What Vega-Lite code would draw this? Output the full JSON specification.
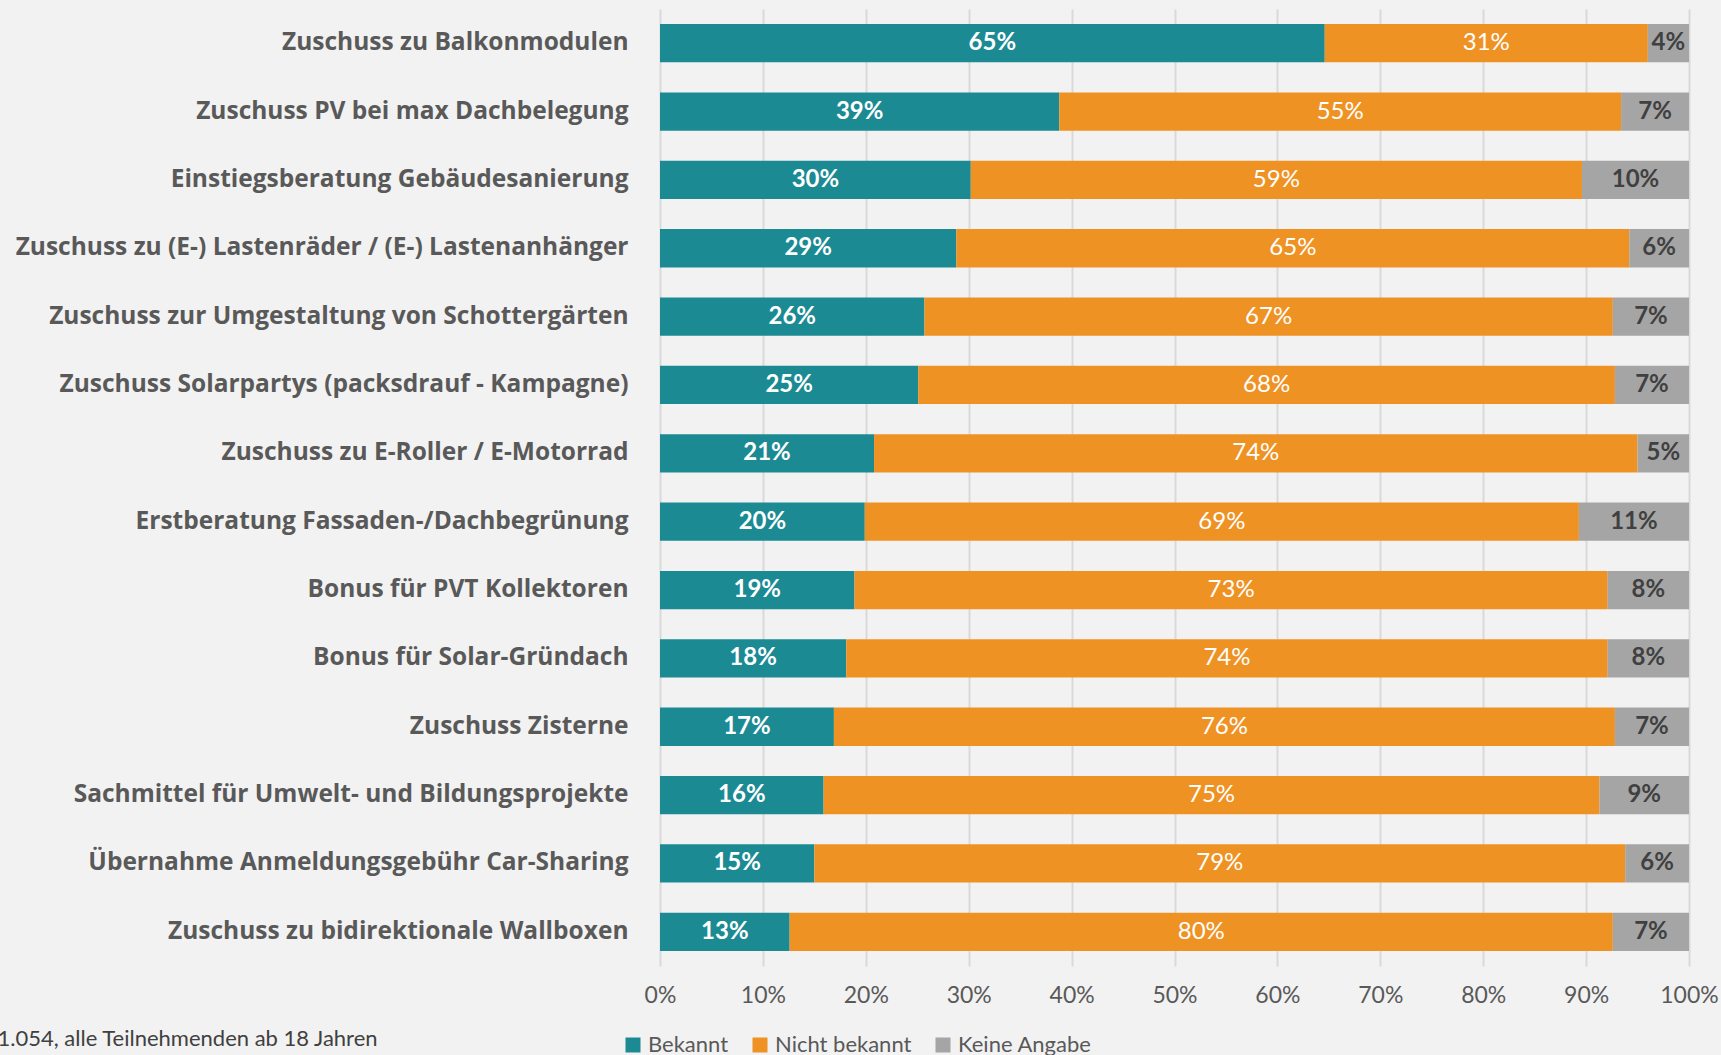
{
  "$schema": "https://vega.github.io/schema/vega-lite/v6.json",
  "autosize": {"type": "none"},
  "padding": {"left": 660, "top": 9, "right": 32, "bottom": 89},
  "width": 1029,
  "height": 957,
  "background": "#f2f2f2",
  "config": {
    "view": {"stroke": null},
    "font": "Lato"
  },
  "data": {
    "values": [
      {"item": "Zuschuss zu Balkonmodulen", "answer": "Bekannt", "share": 0.646},
      {"item": "Zuschuss zu Balkonmodulen", "answer": "Nicht bekannt", "share": 0.314},
      {"item": "Zuschuss zu Balkonmodulen", "answer": "Keine Angabe", "share": 0.040},
      {"item": "Zuschuss  PV bei max Dachbelegung", "answer": "Bekannt", "share": 0.388},
      {"item": "Zuschuss  PV bei max Dachbelegung", "answer": "Nicht bekannt", "share": 0.546},
      {"item": "Zuschuss  PV bei max Dachbelegung", "answer": "Keine Angabe", "share": 0.066},
      {"item": "Einstiegsberatung Gebäudesanierung", "answer": "Bekannt", "share": 0.302},
      {"item": "Einstiegsberatung Gebäudesanierung", "answer": "Nicht bekannt", "share": 0.594},
      {"item": "Einstiegsberatung Gebäudesanierung", "answer": "Keine Angabe", "share": 0.104},
      {"item": "Zuschuss zu (E-) Lastenräder / (E-) Lastenanhänger", "answer": "Bekannt", "share": 0.288},
      {"item": "Zuschuss zu (E-) Lastenräder / (E-) Lastenanhänger", "answer": "Nicht bekannt", "share": 0.654},
      {"item": "Zuschuss zu (E-) Lastenräder / (E-) Lastenanhänger", "answer": "Keine Angabe", "share": 0.058},
      {"item": "Zuschuss zur Umgestaltung von Schottergärten", "answer": "Bekannt", "share": 0.257},
      {"item": "Zuschuss zur Umgestaltung von Schottergärten", "answer": "Nicht bekannt", "share": 0.669},
      {"item": "Zuschuss zur Umgestaltung von Schottergärten", "answer": "Keine Angabe", "share": 0.074},
      {"item": "Zuschuss  Solarpartys (packsdrauf - Kampagne)", "answer": "Bekannt", "share": 0.251},
      {"item": "Zuschuss  Solarpartys (packsdrauf - Kampagne)", "answer": "Nicht bekannt", "share": 0.677},
      {"item": "Zuschuss  Solarpartys (packsdrauf - Kampagne)", "answer": "Keine Angabe", "share": 0.072},
      {"item": "Zuschuss zu E-Roller / E-Motorrad", "answer": "Bekannt", "share": 0.208},
      {"item": "Zuschuss zu E-Roller / E-Motorrad", "answer": "Nicht bekannt", "share": 0.742},
      {"item": "Zuschuss zu E-Roller / E-Motorrad", "answer": "Keine Angabe", "share": 0.050},
      {"item": "Erstberatung Fassaden-/Dachbegrünung", "answer": "Bekannt", "share": 0.199},
      {"item": "Erstberatung Fassaden-/Dachbegrünung", "answer": "Nicht bekannt", "share": 0.694},
      {"item": "Erstberatung Fassaden-/Dachbegrünung", "answer": "Keine Angabe", "share": 0.107},
      {"item": "Bonus für PVT Kollektoren", "answer": "Bekannt", "share": 0.189},
      {"item": "Bonus für PVT Kollektoren", "answer": "Nicht bekannt", "share": 0.732},
      {"item": "Bonus für PVT Kollektoren", "answer": "Keine Angabe", "share": 0.079},
      {"item": "Bonus für Solar-Gründach", "answer": "Bekannt", "share": 0.181},
      {"item": "Bonus für Solar-Gründach", "answer": "Nicht bekannt", "share": 0.740},
      {"item": "Bonus für Solar-Gründach", "answer": "Keine Angabe", "share": 0.079},
      {"item": "Zuschuss  Zisterne", "answer": "Bekannt", "share": 0.169},
      {"item": "Zuschuss  Zisterne", "answer": "Nicht bekannt", "share": 0.759},
      {"item": "Zuschuss  Zisterne", "answer": "Keine Angabe", "share": 0.072},
      {"item": "Sachmittel für Umwelt- und Bildungsprojekte", "answer": "Bekannt", "share": 0.159},
      {"item": "Sachmittel für Umwelt- und Bildungsprojekte", "answer": "Nicht bekannt", "share": 0.754},
      {"item": "Sachmittel für Umwelt- und Bildungsprojekte", "answer": "Keine Angabe", "share": 0.087},
      {"item": "Übernahme  Anmeldungsgebühr  Car-Sharing", "answer": "Bekannt", "share": 0.150},
      {"item": "Übernahme  Anmeldungsgebühr  Car-Sharing", "answer": "Nicht bekannt", "share": 0.788},
      {"item": "Übernahme  Anmeldungsgebühr  Car-Sharing", "answer": "Keine Angabe", "share": 0.062},
      {"item": "Zuschuss zu bidirektionale Wallboxen", "answer": "Bekannt", "share": 0.126},
      {"item": "Zuschuss zu bidirektionale Wallboxen", "answer": "Nicht bekannt", "share": 0.800},
      {"item": "Zuschuss zu bidirektionale Wallboxen", "answer": "Keine Angabe", "share": 0.074}
    ]
  },
  "transform": [
    {"calculate": "indexof(['Bekannt','Nicht bekannt','Keine Angabe'], datum.answer)", "as": "ord"},
    {"stack": "share", "groupby": ["item"], "sort": [{"field": "ord", "order": "ascending"}], "as": ["x0", "x1"]},
    {"calculate": "(datum.x0 + datum.x1) / 2", "as": "mid"}
  ],
  "encoding": {
    "y": {
      "field": "item",
      "type": "nominal",
      "sort": null,
      "scale": {"paddingInner": 0.44, "paddingOuter": 0.22},
      "axis": {
        "title": null,
        "domain": false,
        "ticks": false,
        "labelFont": "Open Sans",
        "labelFontSize": 24.5,
        "labelFontWeight": "bold",
        "labelColor": "#595959",
        "labelPadding": 32,
        "labelLimit": 700
      }
    }
  },
  "layer": [
    {
      "mark": {"type": "bar"},
      "encoding": {
        "x": {
          "field": "x0",
          "type": "quantitative",
          "scale": {"domain": [0, 1], "nice": false},
          "axis": {
            "title": "1.054, alle Teilnehmenden ab 18 Jahren",
            "titleX": -663,
            "titleY": 72,
            "titleAlign": "left",
            "titleAnchor": null,
            "titleBaseline": "middle",
            "titleFont": "Lato",
            "titleFontSize": 22,
            "titleFontWeight": "normal",
            "titleColor": "#404040",
            "format": ".0%",
            "values": [0, 0.1, 0.2, 0.3, 0.4, 0.5, 0.6, 0.7, 0.8, 0.9, 1],
            "grid": true,
            "gridColor": "#d9d9d9",
            "gridWidth": 2,
            "domain": false,
            "ticks": false,
            "labelFlush": false,
            "labelFont": "Lato",
            "labelFontSize": 23,
            "labelColor": "#595959",
            "labelPadding": 18
          }
        },
        "x2": {"field": "x1"},
        "color": {
          "field": "answer",
          "type": "nominal",
          "scale": {
            "domain": ["Bekannt", "Nicht bekannt", "Keine Angabe"],
            "range": ["#1c8a93", "#ef9224", "#a5a5a5"]
          },
          "legend": {
            "title": null,
            "orient": "none",
            "direction": "horizontal",
            "legendX": -38,
            "legendY": 1025,
            "symbolType": "square",
            "symbolSize": 225,
            "symbolStrokeWidth": 0,
            "labelFont": "Lato",
            "labelFontSize": 22,
            "labelColor": "#595959",
            "labelOffset": 4,
            "columnPadding": 20
          }
        }
      }
    },
    {
      "transform": [{"filter": "datum.answer === 'Bekannt'"}],
      "mark": {"type": "text", "font": "Lato", "fontSize": 24, "fontWeight": "bold", "color": "#ffffff", "baseline": "middle", "align": "center"},
      "encoding": {
        "x": {"field": "mid", "type": "quantitative"},
        "text": {"field": "share", "type": "quantitative", "format": ".0%"}
      }
    },
    {
      "transform": [{"filter": "datum.answer === 'Nicht bekannt'"}],
      "mark": {"type": "text", "font": "Lato", "fontSize": 24, "fontWeight": "normal", "color": "#ffffff", "baseline": "middle", "align": "center"},
      "encoding": {
        "x": {"field": "mid", "type": "quantitative"},
        "text": {"field": "share", "type": "quantitative", "format": ".0%"}
      }
    },
    {
      "transform": [{"filter": "datum.answer === 'Keine Angabe'"}],
      "mark": {"type": "text", "font": "Lato", "fontSize": 24, "fontWeight": "bold", "color": "#404040", "baseline": "middle", "align": "center"},
      "encoding": {
        "x": {"field": "mid", "type": "quantitative"},
        "text": {"field": "share", "type": "quantitative", "format": ".0%"}
      }
    }
  ]
}
